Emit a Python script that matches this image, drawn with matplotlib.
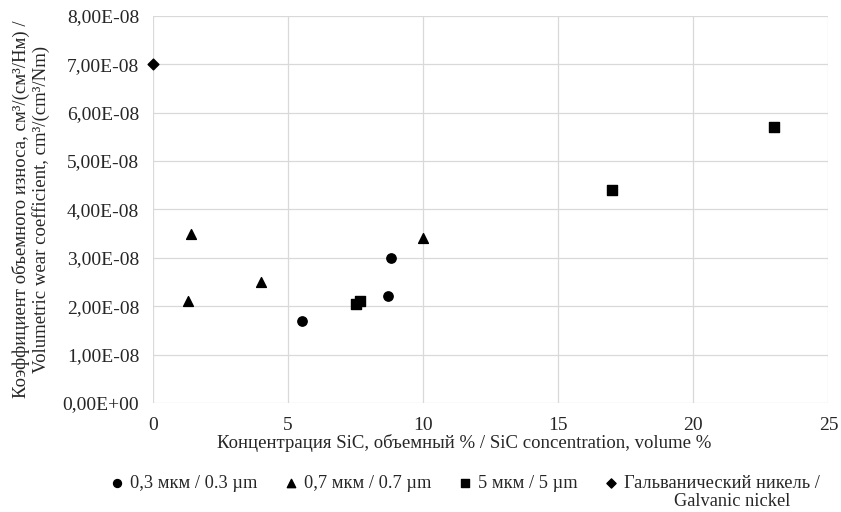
import matplotlib
matplotlib.use("Agg")
from matplotlib import pyplot as plt
from matplotlib.ticker import FuncFormatter

plt.rcParams['font.family'] = ['Liberation Serif', 'DejaVu Serif']

# data
conc_03 = [5.5, 8.7, 8.8]
wear_03 = [1.7e-8, 2.2e-8, 3.0e-8]

conc_07 = [1.3, 1.4, 4.0, 10.0]
wear_07 = [2.1e-8, 3.5e-8, 2.5e-8, 3.4e-8]

conc_5 = [7.5, 7.65, 17.0, 23.0]
wear_5 = [2.05e-8, 2.1e-8, 4.4e-8, 5.7e-8]

conc_ni = [0.0]
wear_ni = [7.0e-8]

labels = ["0,3 мкм / 0.3 µm", "0,7 мкм / 0.7 µm", "5 мкм / 5 µm",
          "Гальванический никель /"]
label_ni_2 = "Galvanic nickel"

TXT = '#262626'


def sci_comma(v, pos):
    s = "%.2E" % v
    return s.replace(".", ",")


def main():
    fig = plt.figure(figsize=(8.41, 5.12), dpi=100)
    ax = fig.add_axes([0.182, 0.213, 0.803, 0.756])

    ax.scatter(conc_03, wear_03, marker='o', s=45, color='black', label=labels[0], zorder=3)
    ax.scatter(conc_07, wear_07, marker='^', s=50, color='black', label=labels[1], zorder=3)
    ax.scatter(conc_5, wear_5, marker='s', s=45, color='black', label=labels[2], zorder=3)
    ax.scatter(conc_ni, wear_ni, marker='D', s=30, color='black', label=labels[3], zorder=3,
               clip_on=False)

    ax.set_xlim(0, 25)
    ax.set_ylim(0, 8e-8)
    ax.set_xticks([0, 5, 10, 15, 20, 25])
    ax.set_yticks([i * 1e-8 for i in range(9)])
    ax.yaxis.set_major_formatter(FuncFormatter(sci_comma))
    ax.yaxis.get_offset_text().set_visible(False)

    ax.grid(True, color='#d9d9d9', linewidth=0.9)
    ax.set_axisbelow(True)
    for sp in ax.spines.values():
        sp.set_visible(False)
    ax.tick_params(length=0, labelsize=14, colors=TXT, pad=10)

    ax.set_xlabel("Концентрация SiC, объемный % / SiC concentration, volume %",
                  fontsize=13.5, color=TXT)
    ax.xaxis.set_label_coords(0.46, -0.08)
    ax.set_ylabel("Коэффициент объемного износа, см³/(см³/Нм) /\n"
                  "Volumetric wear coefficient, cm³/(cm³/Nm)",
                  fontsize=13.5, color=TXT, linespacing=1.15)
    ax.yaxis.set_label_coords(-0.152, 0.5)

    leg = ax.legend(loc='upper left', bbox_to_anchor=(102 / 841, 0.086),
                    bbox_transform=fig.transFigure, ncol=4, frameon=False,
                    fontsize=13.2, handlelength=0.8, handletextpad=0.3,
                    columnspacing=1.45, markerscale=0.85, labelcolor=TXT,
                    borderaxespad=0)

    fig.canvas.draw()
    r = fig.canvas.get_renderer()
    bb = leg.get_texts()[3].get_window_extent(r)
    xc = (bb.x0 + bb.x1) / 2 + 10
    fig.text(xc / fig.bbox.width, (bb.y0 - 0.5) / fig.bbox.height, label_ni_2,
             ha='center', va='top', fontsize=13.2, color=TXT)

    fig.savefig("out.png", dpi=100)


if __name__ == "__main__":
    main()
